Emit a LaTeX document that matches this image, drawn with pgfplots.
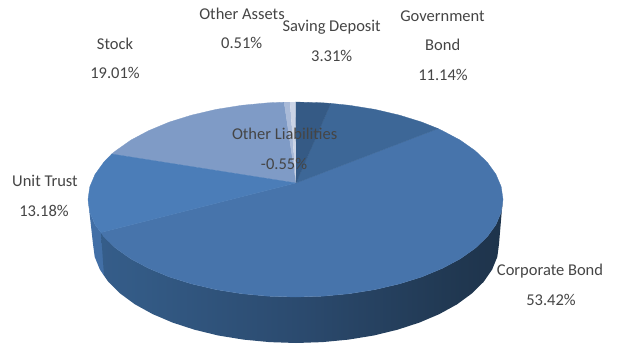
\documentclass[border=0pt]{standalone}
\usepackage{pgfplots}
\usepackage{fontspec}
\setmainfont{Carlito}
\pgfplotsset{compat=1.18}
\definecolor{cSaving}{HTML}{355A85}
\definecolor{cGov}{HTML}{3D6797}
\definecolor{cCorp}{HTML}{4774AB}
\definecolor{cUnit}{HTML}{4B7DB8}
\definecolor{cStock}{HTML}{7F9BC6}
\definecolor{cLiab}{HTML}{A9BAD8}
\definecolor{cAssets}{HTML}{CBD4E6}
\definecolor{cTxt}{HTML}{454545}
\definecolor{sU}{HTML}{426FA6}
\definecolor{sA}{HTML}{3F6B9E}
\definecolor{sB}{HTML}{335A85}
\definecolor{sC}{HTML}{2B4A6E}
\definecolor{sD}{HTML}{203750}
\definecolor{sE}{HTML}{1B2E45}
\pgfdeclarehorizontalshading{sideshade}{100bp}{color(0bp)=(sA); color(30bp)=(sB); color(50bp)=(sC); color(70bp)=(sD); color(82bp)=(sE); color(100bp)=(sE)}
\newcommand{\lab}[3]{\node[text=cTxt,font=\fontsize{16.5}{16.5}\selectfont,inner sep=0pt,anchor=center] at (axis cs:#1,#2) {#3};}
\begin{document}
\begin{tikzpicture}
\begin{axis}[
  scale only axis, width=620pt, height=343pt,
  xmin=0, xmax=620, ymin=0, ymax=343, y dir=reverse,
  hide axis, clip=true, clip mode=global,
  every axis plot/.append style={forget plot, line width=0.3pt},
]
\addplot[draw=none, fill=white] coordinates {(0,0) (620,0) (620,343) (0,343) (0,0)};
% side: Unit Trust
\addplot[draw=none, fill=sU] coordinates {(88,199.5) (89.8,212.2) (95.1,224.7) (101,232.5) (110,240) (110,270) (104,275.6) (99.9,269.6) (94.7,256.9) (93,244) (88,199.5)};
% side: Corporate Bond
\addplot[draw=none, shading=sideshade] coordinates {(101,232.5) (103.8,236.8) (115.8,248.25) (130.9,258.9) (148.8,268.4) (169.2,276.9) (191.75,283.9) (216.1,289.6) (241.8,293.7) (268.4,296.2) (295.5,297) (322.6,296.2) (349.2,293.7) (374.9,289.6) (399.25,283.9) (421.8,276.9) (442.2,268.4) (460.1,258.9) (475.2,248.25) (487.2,236.8) (495.9,224.7) (501.2,212.2) (503,199.5) (501.7,212) (499,244) (497.3,256.9) (492.1,269.6) (483.6,281.9) (471.8,293.5) (457.1,304.3) (439.5,314) (419.6,322.5) (397.5,329.7) (373.7,335.5) (348.5,339.6) (322.5,342.1) (296,343) (269.5,342.1) (243.5,339.6) (218.3,335.5) (194.5,329.7) (172.4,322.5) (152.5,314) (134.9,304.3) (120.2,293.5) (108.4,281.9) (104,275.6) (101,232.5)};
% top face
\addplot[draw=cStock, fill=cStock] coordinates {(296,183) (111.7,154) (115.8,150.75) (130.9,140.1) (148.8,130.6) (169.2,122.1) (191.75,115.1) (216.1,109.4) (241.8,105.3) (268.4,102.8) (284,102.2) (296,183)};
\addplot[draw=cCorp, fill=cCorp] coordinates {(296,183) (438,128.6) (442.2,130.6) (460.1,140.1) (475.2,150.75) (487.2,162.2) (495.9,174.3) (501.2,186.8) (503,199.5) (501.2,212.2) (495.9,224.7) (487.2,236.8) (475.2,248.25) (460.1,258.9) (442.2,268.4) (421.8,276.9) (399.25,283.9) (374.9,289.6) (349.2,293.7) (322.6,296.2) (295.5,297) (268.4,296.2) (241.8,293.7) (216.1,289.6) (191.75,283.9) (169.2,276.9) (148.8,268.4) (130.9,258.9) (115.8,248.25) (103.8,236.8) (101,232.5) (296,183)};
\addplot[draw=cUnit, fill=cUnit] coordinates {(296,183) (101,232.5) (95.1,224.7) (89.8,212.2) (88,199.5) (89.8,186.8) (95.1,174.3) (103.8,162.2) (111.7,154) (296,183)};
\addplot[draw=cGov, fill=cGov] coordinates {(296,183) (330.7,103.4) (349.2,105.3) (374.9,109.4) (399.25,115.1) (421.8,122.1) (438,128.6) (296,183)};
\addplot[draw=cSaving, fill=cSaving] coordinates {(296,183) (295.5,102) (322.6,102.8) (330.7,103.4) (296,183)};
\addplot[draw=none, fill=cLiab] coordinates {(296,183) (284,102.2) (290,102.05) (296,183)};
\addplot[draw=none, fill=cAssets] coordinates {(296,183) (290,102.05) (295.5,102) (296,183)};
% labels
\lab{442.5}{16}{Government}
\lab{442.7}{45}{Bond}
\lab{443}{75}{11.14\%}
\lab{331.7}{27}{Saving Deposit}
\lab{331.7}{56}{3.31\%}
\lab{242}{14}{Other Assets}
\lab{241.7}{43}{0.51\%}
\lab{115}{43.5}{Stock}
\lab{115}{72.7}{19.01\%}
\lab{45}{181}{Unit Trust}
\lab{44}{211}{13.18\%}
\lab{550}{271}{Corporate Bond}
\lab{551}{300}{53.42\%}
\lab{284.7}{134.3}{Other Liabilities}
\lab{284}{164}{-0.55\%}
\end{axis}
\end{tikzpicture}
\end{document}
